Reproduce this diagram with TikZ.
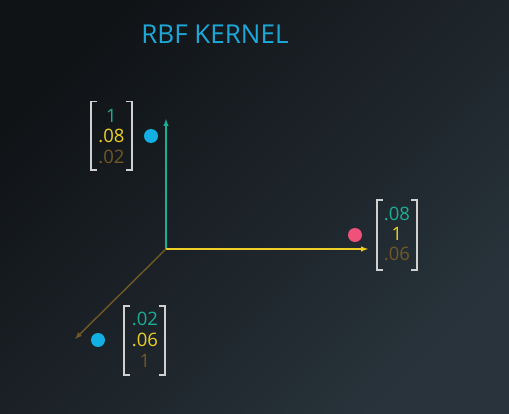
\documentclass[tikz,border=0pt]{standalone}
\usepackage{fontspec}
\setmainfont{Open Sans}
\usetikzlibrary{arrows}
\definecolor{bgdark}{HTML}{101316}
\definecolor{bglight}{HTML}{28333B}
\definecolor{kteal}{HTML}{1BAE96}
\definecolor{kyellow}{HTML}{EDCF25}
\definecolor{kbrown}{HTML}{725824}
\definecolor{kcyan}{HTML}{12B0E2}
\definecolor{kpink}{HTML}{EF517A}
\definecolor{kgray}{HTML}{D0D0D0}
\definecolor{ktitle}{HTML}{1CA9D9}

\begin{document}
\begin{tikzpicture}[x=1pt, y=-1pt,
    entry/.style = {font=\fontsize{18.5}{20}\selectfont, inner sep=0pt},
    bracket/.style = {kgray, line width=1.4pt},
    axis/.style = {line width=1.4pt, -latex},
    dot/.style = {circle, inner sep=0pt, minimum size=14pt}]
    \useasboundingbox (0,0) rectangle (509,414);
    \shade[left color=bgdark, right color=bglight, shading angle=45] (0,0) rectangle (509,414);

    \node[ktitle, font=\fontsize{26}{30}\selectfont] (title) at (215,34) {RBF KERNEL};

    % axes
    \coordinate (o) at (166,249);
    \coordinate (ytip) at (166,119);
    \coordinate (xtip) at (368,249);
    \coordinate (ztip) at (75,339);
    \draw[axis, kteal] (o) -- (ytip);
    \draw[axis, kyellow] (o) -- (xtip);
    \draw[axis, kbrown] (o) -- (ztip);

    % top vector
    \node[entry, kteal] (a1) at (111.5,115.5) {1};
    \node[entry, kyellow] (a2) at (111.5,136) {.08};
    \node[entry, kbrown] (a3) at (111.5,156.5) {.02};
    \draw[bracket] (97,101.5) -- (91,101.5) -- (91,170) -- (97,170);
    \draw[bracket] (126,101.5) -- (132,101.5) -- (132,170) -- (126,170);
    \node[dot, fill=kcyan] (pa) at (151,136) {};

    % right vector
    \node[entry, kteal] (b1) at (397,214) {.08};
    \node[entry, kyellow] (b2) at (397,234) {1};
    \node[entry, kbrown] (b3) at (397,254) {.06};
    \draw[bracket] (383,200) -- (377,200) -- (377,270) -- (383,270);
    \draw[bracket] (411,200) -- (417,200) -- (417,270) -- (411,270);
    \node[dot, fill=kpink] (pb) at (355,235) {};

    % bottom vector
    \node[entry, kteal] (c1) at (145,318.5) {.02};
    \node[entry, kyellow] (c2) at (145,339.5) {.06};
    \node[entry, kbrown] (c3) at (145,360.5) {1};
    \draw[bracket] (130,306) -- (124,306) -- (124,375) -- (130,375);
    \draw[bracket] (159,306) -- (165,306) -- (165,375) -- (159,375);
    \node[dot, fill=kcyan] (pc) at (98,340) {};
\end{tikzpicture}
\end{document}
